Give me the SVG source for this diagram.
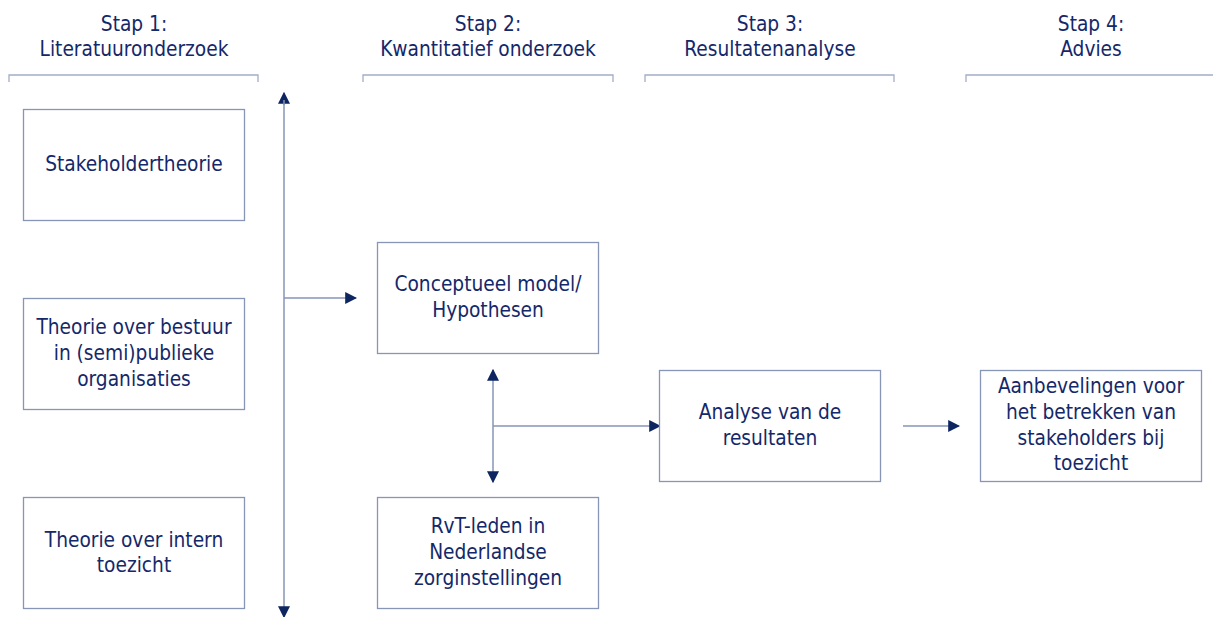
<svg xmlns="http://www.w3.org/2000/svg" width="1213" height="617" viewBox="0 0 1213 617">
  <style>
    text { font-family: "DejaVu Sans Condensed", "DejaVu Sans", sans-serif; font-size: 20.7px; fill: #14286a; text-anchor: middle; }
    .box { fill: #ffffff; stroke: #8795b6; stroke-width: 1.3; }
    .bracket { fill: none; stroke: #a3adc7; stroke-width: 1.3; }
    .link { fill: none; stroke: #8795b6; stroke-width: 1.5; }
  </style>
  <defs>
    <marker id="arrow" viewBox="0 0 10 10" refX="9" refY="5" markerWidth="12" markerHeight="12" markerUnits="userSpaceOnUse" orient="auto-start-reverse">
      <path d="M0,0 L10,5 L0,10 z" fill="#0d2561"/>
    </marker>
  </defs>
  <rect width="1213" height="617" fill="#ffffff"/>

  <!-- step headers -->
  <g id="header-1">
    <text x="134" y="31">Stap 1:</text>
    <text x="134" y="56">Literatuuronderzoek</text>
    <path class="bracket" d="M9,82 V75 H258 V82"/>
  </g>
  <g id="header-2">
    <text x="488" y="31">Stap 2:</text>
    <text x="488" y="56">Kwantitatief onderzoek</text>
    <path class="bracket" d="M363,82 V75 H613 V82"/>
  </g>
  <g id="header-3">
    <text x="770" y="31">Stap 3:</text>
    <text x="770" y="56">Resultatenanalyse</text>
    <path class="bracket" d="M645,82 V75 H894 V82"/>
  </g>
  <g id="header-4">
    <text x="1091" y="31">Stap 4:</text>
    <text x="1091" y="56">Advies</text>
    <path class="bracket" d="M966,82 V75 H1213"/>
  </g>

  <!-- connectors -->
  <g id="connectors">
    <line class="link" x1="284" y1="105" x2="284" y2="93" marker-end="url(#arrow)"/>
    <line class="link" x1="284" y1="100" x2="284" y2="617" marker-end="url(#arrow)"/>
    <line class="link" x1="284" y1="298" x2="356" y2="298" marker-end="url(#arrow)"/>
    <line class="link" x1="493" y1="370" x2="493" y2="482" marker-start="url(#arrow)" marker-end="url(#arrow)"/>
    <line class="link" x1="493" y1="426" x2="660" y2="426" marker-end="url(#arrow)"/>
    <line class="link" x1="903" y1="426" x2="959" y2="426" marker-end="url(#arrow)"/>
  </g>

  <!-- literature nodes -->
  <g id="stakeholdertheorie">
    <rect class="box" x="23.5" y="109.5" width="221" height="111"/>
    <text x="134" y="171">Stakeholdertheorie</text>
  </g>
  <g id="theorie-bestuur">
    <rect class="box" x="23.5" y="298.5" width="221" height="111"/>
    <text x="134" y="334">Theorie over bestuur</text>
    <text x="134" y="360">in (semi)publieke</text>
    <text x="134" y="386">organisaties</text>
  </g>
  <g id="theorie-toezicht">
    <rect class="box" x="23.5" y="497.5" width="221" height="111"/>
    <text x="134" y="547">Theorie over intern</text>
    <text x="134" y="572">toezicht</text>
  </g>

  <!-- quantitative nodes -->
  <g id="conceptueel-model">
    <rect class="box" x="377.5" y="242.5" width="221" height="111"/>
    <text x="488" y="291">Conceptueel model/</text>
    <text x="488" y="317">Hypothesen</text>
  </g>
  <g id="rvt-leden">
    <rect class="box" x="377.5" y="497.5" width="221" height="111"/>
    <text x="488" y="533">RvT-leden in</text>
    <text x="488" y="559">Nederlandse</text>
    <text x="488" y="585">zorginstellingen</text>
  </g>

  <!-- analysis and advice -->
  <g id="analyse">
    <rect class="box" x="659.5" y="370.5" width="221" height="111"/>
    <text x="770" y="419">Analyse van de</text>
    <text x="770" y="445">resultaten</text>
  </g>
  <g id="aanbevelingen">
    <rect class="box" x="980.5" y="370.5" width="221" height="111"/>
    <text x="1091" y="393">Aanbevelingen voor</text>
    <text x="1091" y="419">het betrekken van</text>
    <text x="1091" y="445">stakeholders bij</text>
    <text x="1091" y="470">toezicht</text>
  </g>
</svg>
